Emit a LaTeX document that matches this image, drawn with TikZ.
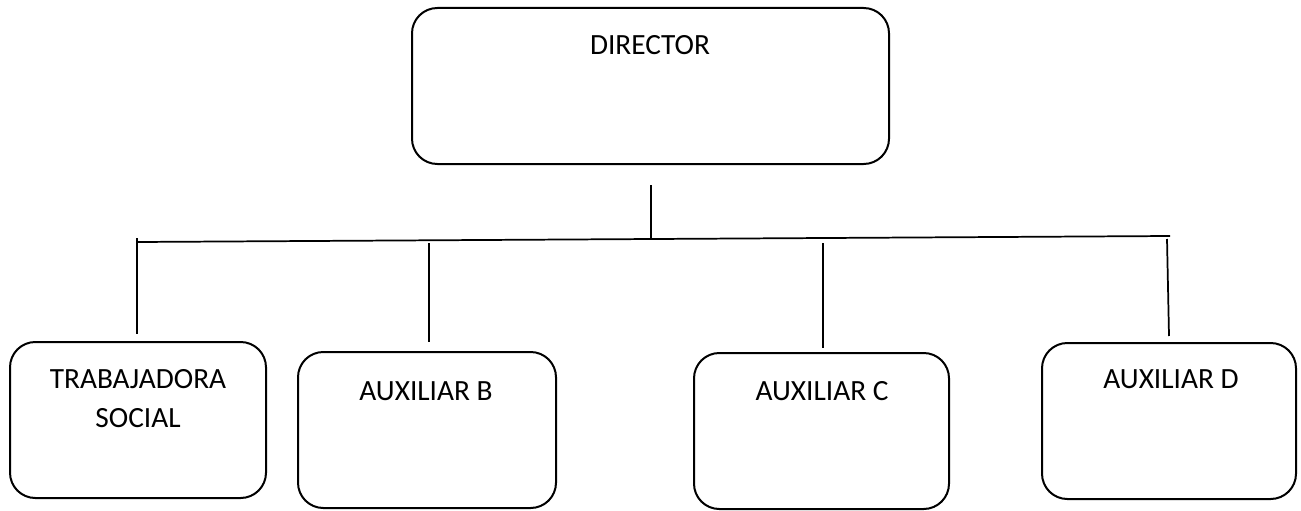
\documentclass[tikz,border=0pt]{standalone}
\usepackage{fontspec}
\setmainfont{Carlito}
\usetikzlibrary{calc}

\begin{document}
\begin{tikzpicture}
[x=0.75pt, y=-0.75pt, font=\fontsize{22}{29}\selectfont, line width=1.3pt,
box/.style={rectangle, draw, rounded corners=19pt, line width=1.5pt, inner sep=0pt, minimum height=117pt},
txt/.style={anchor=base, inner sep=0pt}]

\useasboundingbox (0,0) rectangle (1301,510);

\node[box, minimum width=357.75pt] (dir) at (650.5,86) {};
\node[box, minimum width=192pt] (ts) at (138,420) {};
\node[box, minimum width=193.5pt] (auxb) at (427,430) {};
\node[box, minimum width=191.25pt] (auxc) at (821.5,431) {};
\node[box, minimum width=190.5pt] (auxd) at (1169,421) {};

\node[txt] (dir-t) at (650,55) {DIRECTOR};
\node[txt] (ts-t1) at (138,388) {TRABAJADORA};
\node[txt] (ts-t2) at (138,427) {SOCIAL};
\node[txt] (auxb-t) at (426,400) {AUXILIAR B};
\node[txt] (auxc-t) at (822,400) {AUXILIAR C};
\node[txt] (auxd-t) at (1171,388) {AUXILIAR D};

\coordinate (busL) at (137,242);
\coordinate (busR) at (1170,236);
\coordinate (busM) at (651,238.5);
\coordinate (tB) at (429,243);
\coordinate (tC) at (823,243);
\coordinate (tD) at (1167,239);

\draw ($(dir.south)+(0.5,20)$) -- (busM);
\draw (busL) -- (busR);
\draw ($(busL)+(0,-4)$) -- ($(ts.north)+(-1,-7)$);
\draw (tB) -- ($(auxb.north)+(2,-9)$);
\draw (tC) -- ($(auxc.north)+(1.5,-4)$);
\draw (tD) -- ($(auxd.north)+(0,-6)$);
\end{tikzpicture}
\end{document}
